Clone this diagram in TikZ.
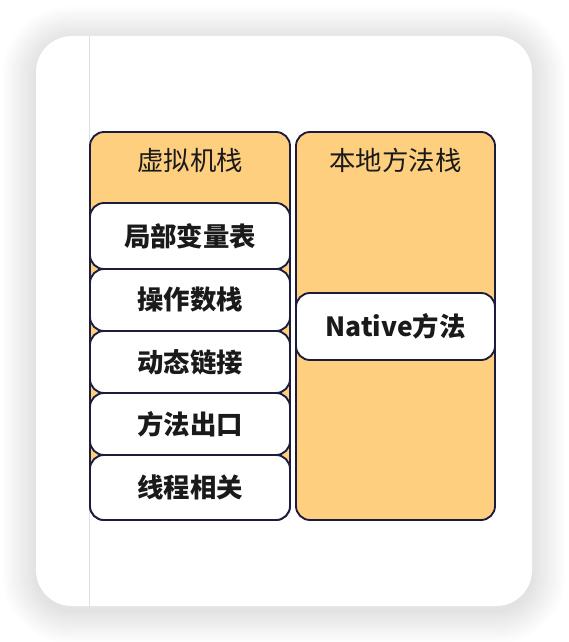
\documentclass[tikz,border=0pt]{standalone}
\usepackage{fontspec}
\newfontfamily\cjk{Noto Sans CJK SC}
\usepackage{xcolor}
\definecolor{stackfill}{HTML}{FDCF7F}
\definecolor{stackline}{HTML}{1C1C3F}
\definecolor{textdark}{HTML}{1A1A1A}
\tikzset{
  column/.style={draw=stackline, fill=stackfill, line width=1.4pt, rounded corners=10.5pt,
    minimum width=150pt, minimum height=291pt, inner sep=0pt},
  frame/.style={draw=stackline, fill=white, line width=1.4pt, rounded corners=10.5pt,
    minimum width=150pt, inner sep=0pt, text=textdark,
    font=\cjk\bfseries\fontsize{19.8}{21}\selectfont},
  title/.style={text=textdark, font=\cjk\fontsize{19.8}{21}\selectfont}
}

\begin{document}
\begin{tikzpicture}[x=0.75pt, y=-0.75pt]
    \useasboundingbox (0,0) rectangle (568,642);

    % Soft shadow behind the card
    \foreach \s in {1,...,14} {
        \pgfmathsetmacro\d{2.4*\s}
        \pgfmathsetmacro\r{27+0.75*\d}
        \fill[black, opacity=0.009, rounded corners=\r pt]
            (36-\d,40-\d) rectangle (532+\d,610+\d);
    }

    % The card and its margin line
    \fill[white, rounded corners=27pt] (36,36) rectangle (532,606);
    \coordinate (M1) at (89,36);
    \coordinate (M2) at (89,606);
    \draw[black!12, line width=0.75pt] (M1) -- (M2);

    % The two stacks
    \node[column] (JVM) at (190,326) {};
    \node[column, minimum width=149.25pt] (Native) at (395.5,326) {};
    \node[title] (JVMTitle) at (190,160) {虚拟机栈};
    \node[title] (NativeTitle) at (395.5,160) {本地方法栈};

    % Frames of the JVM stack
    \foreach \name/\y/\h/\txt in {Local/236/66/局部变量表, Operand/300/62/操作数栈,
        Link/362/62/动态链接, Exit/424/62/方法出口, Thread/487.5/65/线程相关}
        \node[frame, minimum height=\h*0.75pt] (\name) at (190,\y) {\txt};

    % Frame of the native stack
    \node[frame, minimum width=149.25pt, minimum height=50.25pt] (NativeMethod) at (395.5,326.5) {Native方法};
\end{tikzpicture}
\end{document}
